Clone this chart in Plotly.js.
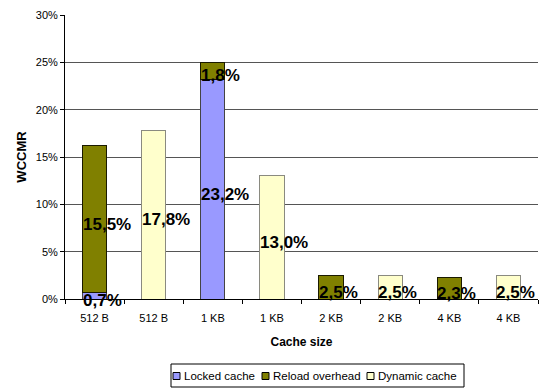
<!DOCTYPE html>
<html>
<head>
<meta charset="utf-8">
<script src="https://cdn.plot.ly/plotly-3.0.1.min.js"></script>
<style>
  html, body { margin: 0; padding: 0; background: #fff; }
  #chart { width: 539px; height: 388px; }
</style>
</head>
<body>
<div id="chart"></div>
<script>
// Cache configurations on the x axis (each size appears twice: locked vs dynamic)
const categories = ['512 B', '512 B', '1 KB', '1 KB', '2 KB', '2 KB', '4 KB', '4 KB'];

// WCCMR components, in percent (null = segment not present)
const lockedCache    = [0.7,  null, 23.2, null, null, null, null, null];
const reloadOverhead = [15.5, null, 1.8,  null, 2.5,  null, 2.3,  null];
const dynamicCache   = [null, 17.8, null, 13.0, null, 2.5,  null, 2.5];

const seriesNames  = ['Locked cache', 'Reload overhead', 'Dynamic cache'];
const seriesValues = [lockedCache, reloadOverhead, dynamicCache];
const seriesColors = ['#9999FF', '#808000', '#FFFFCC'];
const seriesEdges  = ['#444444', '#1a1a00', '#8a8a80'];

const yTicks = [0, 5, 10, 15, 20, 25, 30];

const FONT = 'Liberation Sans, Arial, Helvetica, sans-serif';
const xs = categories.map((_, i) => i);

// plot-area geometry (px) used to place the hand-built legend
const M = { l: 65, r: 1, t: 15, b: 89 };
const W = 539, H = 388;
const PW = W - M.l - M.r, PH = H - M.t - M.b;
const px = p => (p - M.l) / PW;
const py = p => (H - M.b - p) / PH;

const traces = seriesValues.map((vals, s) => ({
  type: 'bar',
  name: seriesNames[s],
  x: xs,
  y: vals,
  width: 0.41,
  marker: { color: seriesColors[s], line: { color: seriesEdges[s], width: 1 } },
  hoverinfo: 'skip',
  showlegend: false
}));

// value labels, centred on each stacked segment
const fmt = v => v.toFixed(1).replace('.', ',') + '%';
const annotations = [];
xs.forEach(i => {
  let base = 0;
  seriesValues.forEach(vals => {
    const v = vals[i];
    if (v !== null && v !== undefined) {
      annotations.push({
        x: i, y: base + v / 2, xref: 'x', yref: 'y',
        text: fmt(v), showarrow: false,
        xanchor: 'left', yanchor: 'middle',
        xshift: -14, yshift: -5,
        font: { family: FONT, size: 17, color: '#000', weight: 'bold' }
      });
      base += v;
    }
  });
});

// legend: bordered box with small swatches
const shapes = [{
  type: 'rect', xref: 'paper', yref: 'paper',
  x0: px(171), x1: px(464), y0: py(364), y1: py(387),
  line: { color: '#000', width: 1 }, fillcolor: '#fff'
}];
const swatchX = [173, 262, 367];
seriesNames.forEach((name, s) => {
  shapes.push({
    type: 'rect', xref: 'paper', yref: 'paper',
    x0: px(swatchX[s]), x1: px(swatchX[s] + 7),
    y0: py(379.5), y1: py(372.5),
    fillcolor: seriesColors[s], line: { color: '#000', width: 1 }
  });
  annotations.push({
    xref: 'paper', yref: 'paper',
    x: px(swatchX[s] + 9), y: py(376),
    text: name, showarrow: false,
    xanchor: 'left', yanchor: 'middle',
    font: { family: FONT, size: 11.5, color: '#000' }
  });
});

const layout = {
  width: W, height: H,
  margin: M,
  paper_bgcolor: '#fff', plot_bgcolor: '#fff',
  barmode: 'stack',
  font: { family: FONT, size: 11, color: '#000' },
  xaxis: {
    range: [-0.5, 7.5],
    tickmode: 'array', tickvals: xs, ticktext: categories,
    ticks: '', ticklabelstandoff: 9,
    showline: true, linecolor: '#000', linewidth: 1,
    showgrid: false, zeroline: false,
    minor: { tickmode: 'linear', tick0: -0.5, dtick: 1, ticks: 'outside', ticklen: 4, tickcolor: '#000', showgrid: false },
    title: { text: 'Cache size', font: { family: FONT, size: 12, weight: 'bold' }, standoff: 14 },
    fixedrange: true
  },
  yaxis: {
    range: [0, 30],
    tickmode: 'array', tickvals: yTicks, ticktext: yTicks.map(v => v + '%'),
    ticks: 'outside', ticklen: 4, tickcolor: '#000',
    showline: true, linecolor: '#000', linewidth: 1,
    showgrid: true, gridcolor: '#555', gridwidth: 1,
    zeroline: false,
    title: { text: 'WCCMR', font: { family: FONT, size: 13, weight: 'bold' }, standoff: 6 },
    fixedrange: true
  },
  showlegend: false,
  shapes: shapes,
  annotations: annotations
};

Plotly.newPlot('chart', traces, layout, { displayModeBar: false, staticPlot: true });
</script>
</body>
</html>
